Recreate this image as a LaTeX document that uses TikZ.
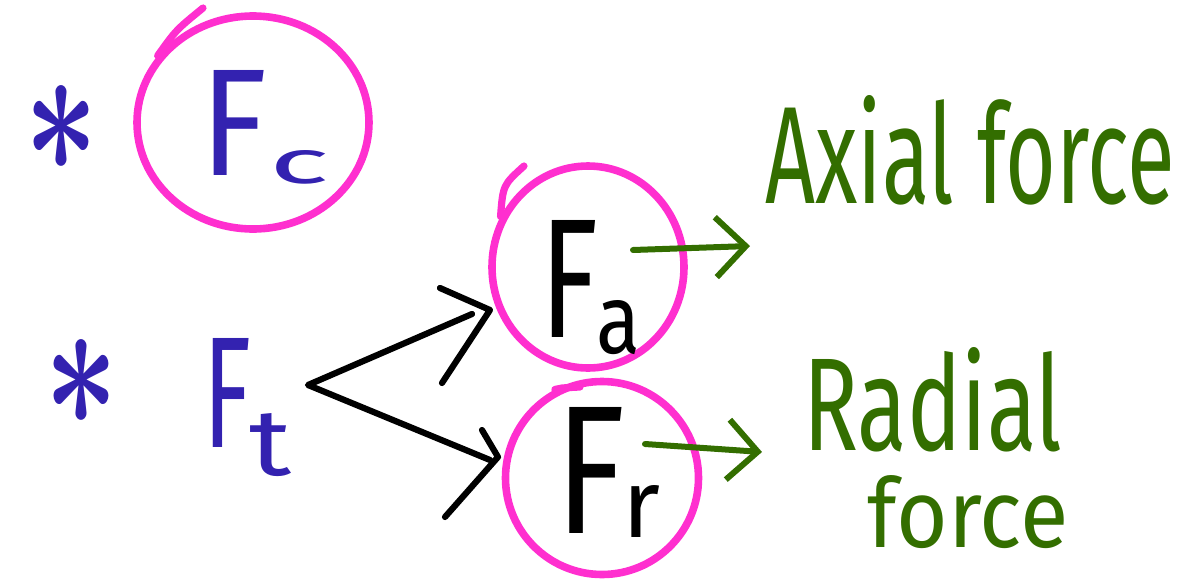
\documentclass[tikz,border=0pt]{standalone}
\usepackage{fontspec}
\setmainfont{Fira Sans}
\usepackage{graphicx}
\usepackage{bm}
\usetikzlibrary{shapes.geometric,arrows.meta}
\definecolor{pblue}{HTML}{3322B0}
\definecolor{pmag}{HTML}{FF2FCF}
\definecolor{pgreen}{HTML}{336E00}
\tikzset{
  ring/.style={draw=pmag, line width=3.8pt, ellipse, inner sep=0pt},
  flick/.style={draw=pmag, line width=3.6pt, line cap=round},
  txt/.style={inner sep=0pt, anchor=base west},
  garrow/.style={draw=pgreen, line width=3pt, line cap=round, line join=round,
    -{Straight Barb[length=15pt,width=30pt]}},
  karrow/.style={draw=black, line width=3.1pt, line cap=round, line join=round},
  asterisk/.style={inner sep=0pt, text=pblue},
}
\newcommand{\rb}[3]{\resizebox{#1pt}{#2pt}{#3}}
\begin{document}
\begin{tikzpicture}[x=0.5pt,y=-0.5pt]
\useasboundingbox (0,0) rectangle (1196,579);

% bullets
\node[asterisk] (ast1) at (62,128) {\rb{37}{43}{$\bm{\ast}$}};
\node[asterisk] (ast2) at (82,382) {\rb{37}{43}{$\bm{\ast}$}};

% rings
\node[ring, minimum width=116pt, minimum height=106.5pt] (ringC) at (253,122.5) {};
\node[ring, minimum width=96pt, minimum height=101pt] (ringA) at (588,267) {};
\node[ring, minimum width=96.5pt, minimum height=96.5pt] (ringR) at (602,478) {};
\draw[flick] (ringC.145) .. controls (176,30) .. (203,8);
\draw[flick] (ringA.150) .. controls (503,185) .. (524,166);
\draw[flick] (ringR.118) .. controls (560,388) .. (580,387);

% labels
\node[txt, text=pblue] (Fc) at (200,175)
  {\rb{33.5}{52.5}{F}\kern1pt\raisebox{-4pt}{\rb{30}{16.5}{c}}};
\node[txt, text=pblue] (Ft) at (203,447)
  {\rb{24}{54.5}{F}\kern-1pt\raisebox{-14pt}{\rb{21}{31}{t}}};
\node[txt, text=black] (Fa) at (540,337)
  {\rb{29}{58.5}{F}\kern-1pt\raisebox{-8pt}{\rb{22}{26.5}{a}}};
\node[txt, text=black] (Fr) at (555,533)
  {\rb{35}{63}{F}\kern-1.5pt\raisebox{-2pt}{\rb{19}{26}{r}}};

\node[txt, text=pgreen] (axial) at (765,203) {\rb{205}{54}{Axial force}};
\node[txt, text=pgreen] (radial) at (803,450) {\rb{129.5}{51.5}{Radial}};
\node[txt, text=pgreen] (radialforce) at (867,547) {\rb{100.5}{36}{force}};

% green arrows
\coordinate (faOut) at (633,250);
\coordinate (axIn) at (750,246);
\coordinate (frOut) at (645,444);
\coordinate (raIn) at (762,452);
\draw[garrow] (faOut) -- (axIn);
\draw[garrow] (frOut) -- (raIn);

% black split arrows
\coordinate (split) at (308,385);
\coordinate (upEnd) at (472,314);
\coordinate (loEnd) at (490,460);
\draw[karrow] (upEnd) -- (split) -- (loEnd);
\draw[karrow] (440,288) -- (490,310) -- (442,383);
\draw[karrow] (482,430) -- (498,457) -- (445,517);
\end{tikzpicture}
\end{document}
